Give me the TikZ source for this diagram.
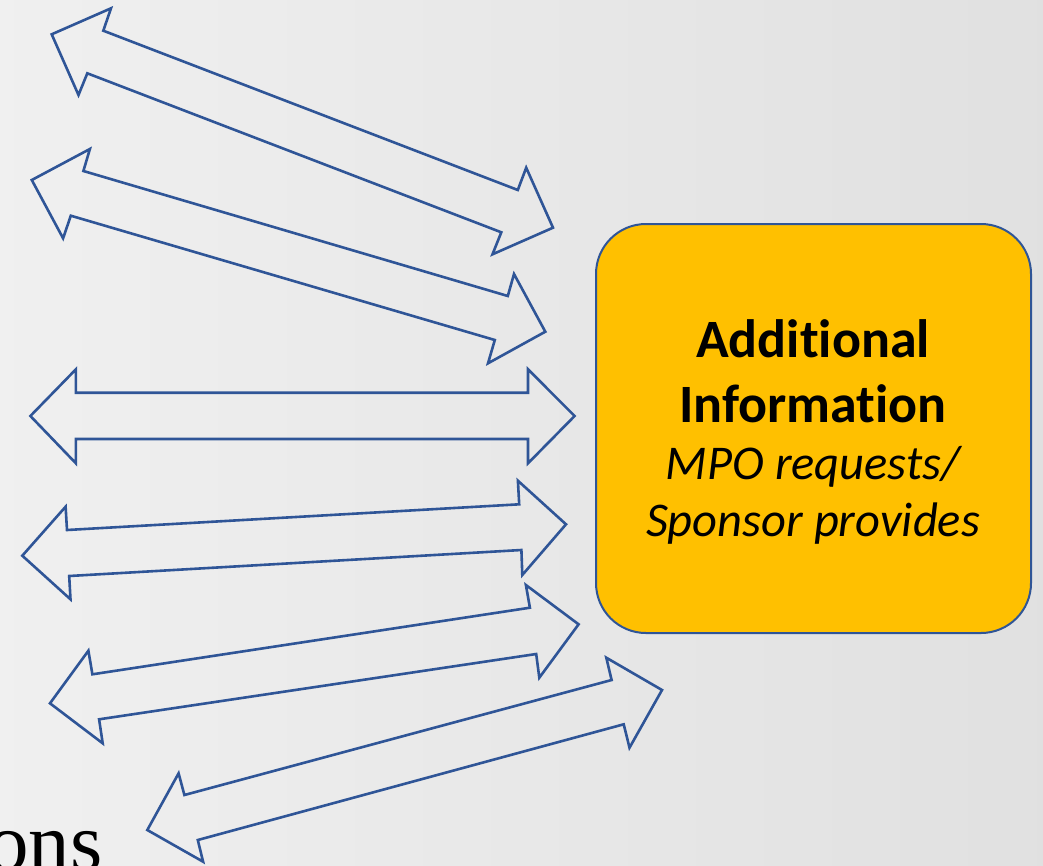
\documentclass[tikz,border=0pt]{standalone}
\usepackage{fontspec}
\setmainfont{Carlito}[RawFeature={-liga}]
\newfontfamily\serifons{Liberation Serif}
\definecolor{arrowblue}{HTML}{2F5597}
\definecolor{boxorange}{HTML}{FFC000}
\tikzset{
  dblarrow/.style={draw=arrowblue, line width=2.6pt, line join=miter, fill=none},
  infobox/.style={draw=arrowblue, line width=2pt, fill=boxorange, rounded corners=50pt,
    minimum width=435pt, minimum height=409pt, inner sep=0pt},
  boldline/.style={anchor=base, inner sep=0pt, font=\fontsize{54}{65}\selectfont\bfseries},
  itline/.style={anchor=base, inner sep=0pt, font=\fontsize{48.5}{57}\selectfont\itshape}
}
\begin{document}
\begin{tikzpicture}[x=1pt,y=-1pt]
\useasboundingbox (0,0) rectangle (1043,865);
\clip (0,0) rectangle (1043,865);
\shade[left color=black!6, right color=black!12] (0,0) rectangle (1043,865);
% arrow 1
\draw[dblarrow] (51.7,34.3) -- (111,8.3) -- (103.3,30.7) -- (517.8,190) -- (526.2,167.7) -- (553,227.7) -- (492.5,254.3) -- (501.3,232.3) -- (87.3,73.3) -- (78.5,95) -- cycle;
% arrow 2
\draw[dblarrow] (31.8,180) -- (89.9,149) -- (83.4,171) -- (507.8,296) -- (514,274) -- (545.3,331.7) -- (488,363.3) -- (494.8,340) -- (70.8,215.7) -- (63.1,238.3) -- cycle;
% arrow 3
\draw[dblarrow] (30.4,416) -- (75.9,369.3) -- (75.9,392.7) -- (528,392.7) -- (528,369.3) -- (574.6,416) -- (528,463.3) -- (528,439) -- (75.9,439) -- (75.9,463.3) -- cycle;
% arrow 4
\draw[dblarrow] (22.3,555.7) -- (65.6,506.7) -- (67,530) -- (519.2,504.3) -- (517.9,480.7) -- (566,524.3) -- (522.3,575) -- (521.4,550) -- (69.2,576) -- (70.5,599.3) -- cycle;
% arrow 5
\draw[dblarrow] (50,703.3) -- (88.4,650.7) -- (92.4,674.3) -- (529.9,607.7) -- (525.9,585) -- (578.6,624.3) -- (539.3,677.7) -- (536.2,654) -- (99.1,719.3) -- (102.7,743.3) -- cycle;
% arrow 6
\draw[dblarrow] (147.3,830) -- (178.6,773.3) -- (184.4,795) -- (611.6,680) -- (606.3,657.7) -- (662,690) -- (629.5,747.7) -- (623.7,724.3) -- (197.8,840) -- (203.1,861.7) -- cycle;
% box
\node[infobox] (info) at (813.5,428.5) {};
\node[boldline] (l1) at (813,357) {Additional};
\node[boldline] (l2) at (813,422) {Information};
\node[itline] (l3) at (813,479) {MPO requests/};
\node[itline] (l4) at (813,536) {Sponsor provides};
% partial text
\node[anchor=base east, inner sep=0pt, font=\serifons\fontsize{83}{90}\selectfont] (ons) at (103,870) {ons};
\end{tikzpicture}
\end{document}
